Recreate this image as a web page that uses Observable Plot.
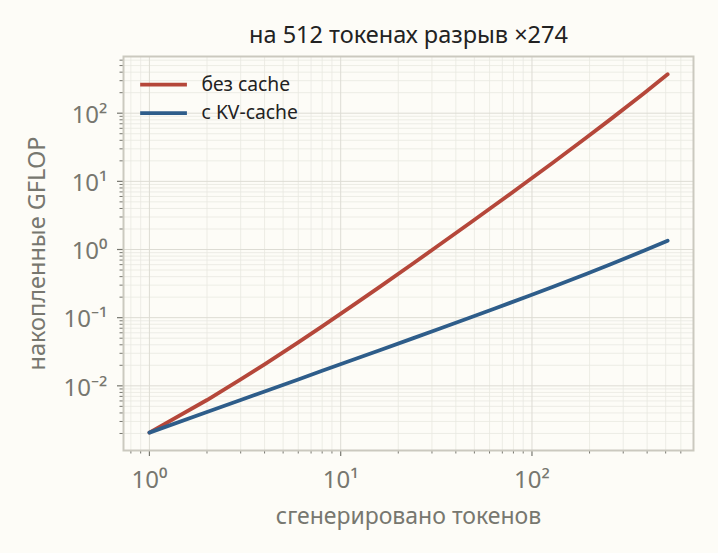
<!DOCTYPE html>
<html>
<head>
<meta charset="utf-8">
<script src="https://cdn.jsdelivr.net/npm/d3@7"></script>
<script src="https://cdn.jsdelivr.net/npm/@observablehq/plot@0.6"></script>
<style>
  html, body { margin: 0; padding: 0; background: #fdfcf7; }
  #chart svg { display: block; }
</style>
</head>
<body>
<div id="chart"></div>
<script>
// generated tokens
const tokens = [1, 2, 3, 4, 6, 8, 12, 16, 24, 32, 48, 64, 96, 128, 192, 256, 384, 512];
// cumulative GFLOP without cache
const noCache = [0.00206, 0.00619, 0.0124, 0.0207, 0.0435, 0.0746, 0.162, 0.283, 0.629, 1.114, 2.51, 4.49, 10.27, 18.6, 43.5, 80.5, 195, 372];
// cumulative GFLOP with KV-cache
const kvCache = [0.00206, 0.00413, 0.00619, 0.00826, 0.0124, 0.0166, 0.0249, 0.0333, 0.0501, 0.0671, 0.1015, 0.1365, 0.208, 0.282, 0.437, 0.602, 0.958, 1.35];

const seriesNames = ["без cache", "с KV-cache"];
const seriesColors = ["#b5473a", "#2e5d8a"];
const title = "на 512 токенах разрыв ×274";
const xLabel = "сгенерировано токенов";
const yLabel = "накопленные GFLOP";

const xMajor = [1, 10, 100];
const xMajorLabels = ["10⁰", "10¹", "10²"];
const yMajor = [0.01, 0.1, 1, 10, 100];
const yMajorLabels = ["10⁻²", "10⁻¹", "10⁰", "10¹", "10²"];

// legend positions in data units (top-left inside frame)
const legendY = [262, 100];
const legendX = [0.9, 1.58, 1.87];

function minors(lo, hi) {
  const out = [];
  for (let e = lo; e <= hi; e++) for (let m = 2; m <= 9; m++) out.push(m * Math.pow(10, e));
  return out;
}
const xDomain = [0.732, 699];
const yDomain = [0.001125, 679];
const xMinor = minors(-1, 2).filter(v => v >= xDomain[0] && v <= xDomain[1]);
const yMinor = minors(-3, 2).filter(v => v >= yDomain[0] && v <= yDomain[1]);

const data = [];
tokens.forEach((t, i) => {
  data.push({x: t, y: noCache[i], s: seriesNames[0]});
  data.push({x: t, y: kvCache[i], s: seriesNames[1]});
});
const xTicks = xMajor.map((v, i) => ({v, label: xMajorLabels[i]}));
const yTicks = yMajor.map((v, i) => ({v, label: yMajorLabels[i]}));
const legend = seriesNames.map((s, i) => ({s, y: legendY[i], c: seriesColors[i]}));

const font = "'Noto Sans', 'Open Sans', sans-serif";
const gray = "#77776f";

const plot = Plot.plot({
  width: 718,
  height: 553,
  marginLeft: 123,
  marginRight: 25,
  marginTop: 56,
  marginBottom: 103,
  style: {background: "#fdfcf7", fontFamily: font, overflow: "visible"},
  x: {type: "log", domain: xDomain, axis: null},
  y: {type: "log", domain: yDomain, axis: null},
  marks: [
    Plot.gridX(xMinor, {stroke: "#e9e8e1", strokeOpacity: 1, strokeWidth: 0.8}),
    Plot.gridY(yMinor, {stroke: "#e9e8e1", strokeOpacity: 1, strokeWidth: 0.8}),
    Plot.gridX(xMajor, {stroke: "#dddcd4", strokeOpacity: 1, strokeWidth: 1}),
    Plot.gridY(yMajor, {stroke: "#dddcd4", strokeOpacity: 1, strokeWidth: 1}),
    Plot.axisX(xMinor, {tickSize: 3.5, stroke: gray, tickFormat: () => "", label: null, tickPadding: 0}),
    Plot.axisY(yMinor, {tickSize: 3.5, stroke: gray, tickFormat: () => "", label: null, tickPadding: 0}),
    Plot.axisX(xMajor, {tickSize: 6, stroke: gray, strokeWidth: 1.2, tickFormat: () => "", label: null}),
    Plot.axisY(yMajor, {tickSize: 6, stroke: gray, strokeWidth: 1.2, tickFormat: () => "", label: null}),
    Plot.text(xTicks, {x: "v", text: "label", frameAnchor: "bottom", lineAnchor: "middle", textAnchor: "middle",
      dy: 30, fontSize: 24, fill: gray}),
    Plot.text(yTicks, {y: "v", text: "label", frameAnchor: "left", lineAnchor: "middle", textAnchor: "end",
      dx: -16, dy: 2, fontSize: 24, fill: gray}),
    Plot.frame({stroke: "#cbc9bf", strokeWidth: 2}),
    Plot.line(data, {x: "x", y: "y", z: "s", stroke: d => seriesColors[seriesNames.indexOf(d.s)], strokeWidth: 3.8}),
    // title and axis labels
    Plot.text([title], {frameAnchor: "top", lineAnchor: "middle", textAnchor: "middle", dy: -21, text: d => d, fontSize: 23.5, fill: "#222"}),
    Plot.text([xLabel], {frameAnchor: "bottom", lineAnchor: "middle", textAnchor: "middle", dy: 66, text: d => d, fontSize: 23, fill: gray}),
    Plot.text([yLabel], {frameAnchor: "left", lineAnchor: "middle", textAnchor: "middle", dx: -86, rotate: -90, text: d => d, fontSize: 23.5, fill: gray}),
    // legend
    Plot.ruleY(legend, {y: "y", x1: legendX[0], x2: legendX[1], stroke: "c", strokeWidth: 3.8}),
    Plot.text(legend, {y: "y", x: legendX[2], text: "s", textAnchor: "start", lineAnchor: "middle", fontSize: 19.3, fill: "#222"}),
  ]
});

document.getElementById("chart").append(plot);
</script>
</body>
</html>
